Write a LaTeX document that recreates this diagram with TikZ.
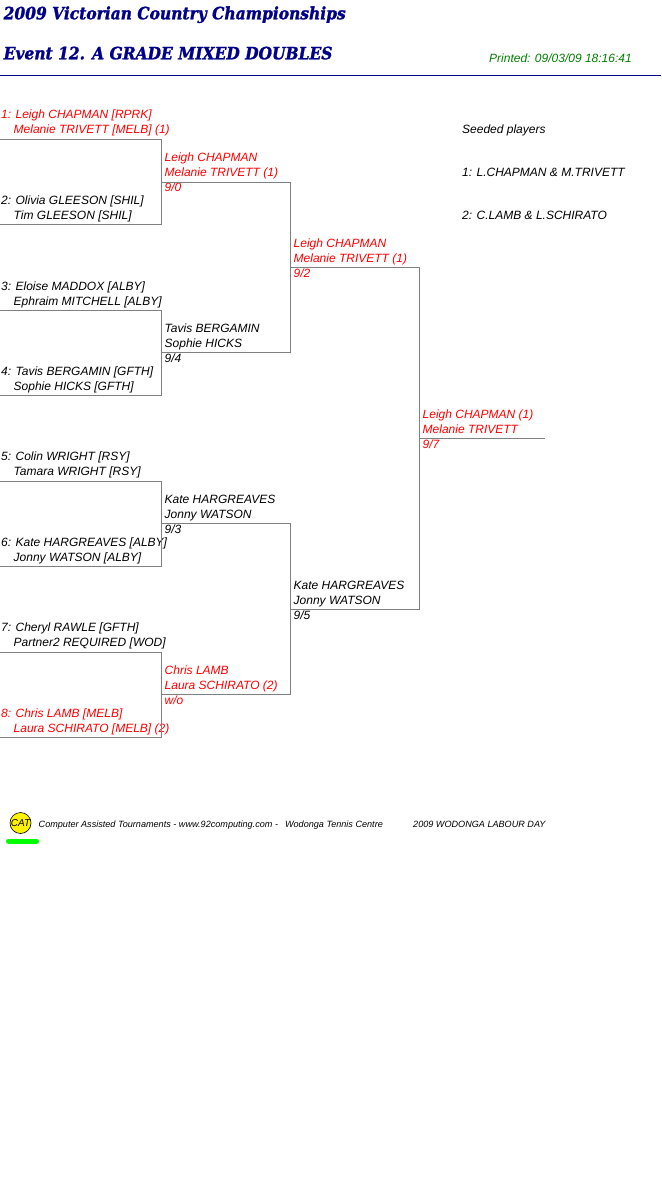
\documentclass[tikz,border=0pt]{standalone}
\usepackage{fontspec}
\setmainfont{Liberation Sans}
\newfontfamily\titlefont[BoldItalicFeatures={FakeBold=1.5,FakeStretch=0.91}]{DejaVu Serif}
\definecolor{navy}{RGB}{0,0,139}
\definecolor{printgreen}{RGB}{0,128,0}
\definecolor{linegray}{RGB}{128,128,128}
\tikzset{
    player/.style={anchor=base west, inner sep=0pt, font=\fontsize{12}{12}\selectfont\itshape, text=black},
    winner/.style={player, text=red},
    heading/.style={anchor=base west, inner sep=0pt, font=\fontsize{17}{17}\selectfont\titlefont\bfseries\itshape, text=navy},
    footer/.style={anchor=base west, inner sep=0pt, font=\fontsize{9.1}{9.1}\selectfont\itshape, text=black},
    bracket/.style={draw=linegray, line width=1pt},
}
\begin{document}
\begin{tikzpicture}[x=1pt, y=-1pt]
    \useasboundingbox (0,0) rectangle (661,1196);

    % title block
    \node[heading] (title) at (3.5,19.3) {2009 Victorian Country Championships};
    \node[heading] (event) at (3.5,59.3) {Event 12. A GRADE MIXED DOUBLES};
    \node[player, text=printgreen] (printed) at (489,63) {Printed: 09/03/09 18:16:41};
    \coordinate (ruleL) at (0,75.5);
    \coordinate (ruleR) at (661,75.5);
    \draw[navy, line width=1pt] (ruleL) -- (ruleR);

    % seeds
    \node[player] (seedhead) at (462,134) {Seeded players};
    \node[player] (seedone) at (462,176) {1: L.CHAPMAN \& M.TRIVETT};
    \node[player] (seedtwo) at (462,219) {2: C.LAMB \& L.SCHIRATO};

    % first round
    \node[winner] (p1a) at (1,119) {1: Leigh CHAPMAN [RPRK]};
    \node[winner] (p1b) at (13.5,134) {Melanie TRIVETT [MELB] (1)};
    \node[player] (p2a) at (1,204) {2: Olivia GLEESON [SHIL]};
    \node[player] (p2b) at (13.5,219) {Tim GLEESON [SHIL]};
    \node[player] (p3a) at (1,290) {3: Eloise MADDOX [ALBY]};
    \node[player] (p3b) at (13.5,305) {Ephraim MITCHELL [ALBY]};
    \node[player] (p4a) at (1,375) {4: Tavis BERGAMIN [GFTH]};
    \node[player] (p4b) at (13.5,390) {Sophie HICKS [GFTH]};
    \node[player] (p5a) at (1,460) {5: Colin WRIGHT [RSY]};
    \node[player] (p5b) at (13.5,475) {Tamara WRIGHT [RSY]};
    \node[player] (p6a) at (1,546) {6: Kate HARGREAVES [ALBY]};
    \node[player] (p6b) at (13.5,561) {Jonny WATSON [ALBY]};
    \node[player] (p7a) at (1,631) {7: Cheryl RAWLE [GFTH]};
    \node[player] (p7b) at (13.5,646) {Partner2 REQUIRED [WOD]};
    \node[winner] (p8a) at (1,717) {8: Chris LAMB [MELB]};
    \node[winner] (p8b) at (13.5,732) {Laura SCHIRATO [MELB] (2)};

    % second round
    \node[winner] (q1a) at (164.5,161) {Leigh CHAPMAN};
    \node[winner] (q1b) at (164.5,176) {Melanie TRIVETT (1)};
    \node[winner] (q1s) at (164.5,191) {9/0};
    \node[player] (q2a) at (164.5,332) {Tavis BERGAMIN};
    \node[player] (q2b) at (164.5,347) {Sophie HICKS};
    \node[player] (q2s) at (164.5,362) {9/4};
    \node[player] (q3a) at (164.5,503) {Kate HARGREAVES};
    \node[player] (q3b) at (164.5,518) {Jonny WATSON};
    \node[player] (q3s) at (164.5,533) {9/3};
    \node[winner] (q4a) at (164.5,674) {Chris LAMB};
    \node[winner] (q4b) at (164.5,689) {Laura SCHIRATO (2)};
    \node[winner] (q4s) at (164.5,704) {w/o};

    % semi finals
    \node[winner] (s1a) at (293.5,247) {Leigh CHAPMAN};
    \node[winner] (s1b) at (293.5,262) {Melanie TRIVETT (1)};
    \node[winner] (s1s) at (293.5,277) {9/2};
    \node[player] (s2a) at (293.5,589) {Kate HARGREAVES};
    \node[player] (s2b) at (293.5,604) {Jonny WATSON};
    \node[player] (s2s) at (293.5,619) {9/5};

    % final
    \node[winner] (fa) at (422.5,418) {Leigh CHAPMAN (1)};
    \node[winner] (fb) at (422.5,433) {Melanie TRIVETT};
    \node[winner] (fs) at (422.5,448) {9/7};

    % bracket corners
    \coordinate (b1t) at (0,139.5);
    \coordinate (b1u) at (161.5,139.5);
    \coordinate (b1v) at (161.5,224.5);
    \coordinate (b1b) at (0,224.5);
    \coordinate (b2t) at (0,310.5);
    \coordinate (b2u) at (161.5,310.5);
    \coordinate (b2v) at (161.5,395.5);
    \coordinate (b2b) at (0,395.5);
    \coordinate (b3t) at (0,481.5);
    \coordinate (b3u) at (161.5,481.5);
    \coordinate (b3v) at (161.5,566.5);
    \coordinate (b3b) at (0,566.5);
    \coordinate (b4t) at (0,652.5);
    \coordinate (b4u) at (161.5,652.5);
    \coordinate (b4v) at (161.5,737.5);
    \coordinate (b4b) at (0,737.5);
    \coordinate (c1t) at (161.5,182.5);
    \coordinate (c1u) at (290.5,182.5);
    \coordinate (c1v) at (290.5,352.5);
    \coordinate (c1b) at (161.5,352.5);
    \coordinate (c2t) at (161.5,523.5);
    \coordinate (c2u) at (290.5,523.5);
    \coordinate (c2v) at (290.5,694.5);
    \coordinate (c2b) at (161.5,694.5);
    \coordinate (d1t) at (290.5,267.5);
    \coordinate (d1u) at (419.5,267.5);
    \coordinate (d1v) at (419.5,609.5);
    \coordinate (d1b) at (290.5,609.5);
    \coordinate (ft) at (419.5,438.5);
    \coordinate (fu) at (545,438.5);

    \draw[bracket] (b1t) -- (b1u) -- (b1v) -- (b1b);
    \draw[bracket] (b2t) -- (b2u) -- (b2v) -- (b2b);
    \draw[bracket] (b3t) -- (b3u) -- (b3v) -- (b3b);
    \draw[bracket] (b4t) -- (b4u) -- (b4v) -- (b4b);
    \draw[bracket] (c1t) -- (c1u) -- (c1v) -- (c1b);
    \draw[bracket] (c2t) -- (c2u) -- (c2v) -- (c2b);
    \draw[bracket] (d1t) -- (d1u) -- (d1v) -- (d1b);
    \draw[bracket] (ft) -- (fu);

    % footer
    \node[circle, draw=black, fill=yellow, line width=0.6pt, minimum size=21pt, inner sep=0pt, font=\fontsize{10}{10}\selectfont\itshape] (logo) at (20.5,823) {CAT};
    \coordinate (barL) at (8.5,841);
    \coordinate (barR) at (36.5,841);
    \draw[green, line width=5pt, line cap=round] (barL) -- (barR);
    \node[footer] (credit) at (38.5,827) {Computer Assisted Tournaments - www.92computing.com -\hspace{7pt}Wodonga Tennis Centre};
    \node[footer] (venue) at (413,827) {2009 WODONGA LABOUR DAY};
\end{tikzpicture}
\end{document}
